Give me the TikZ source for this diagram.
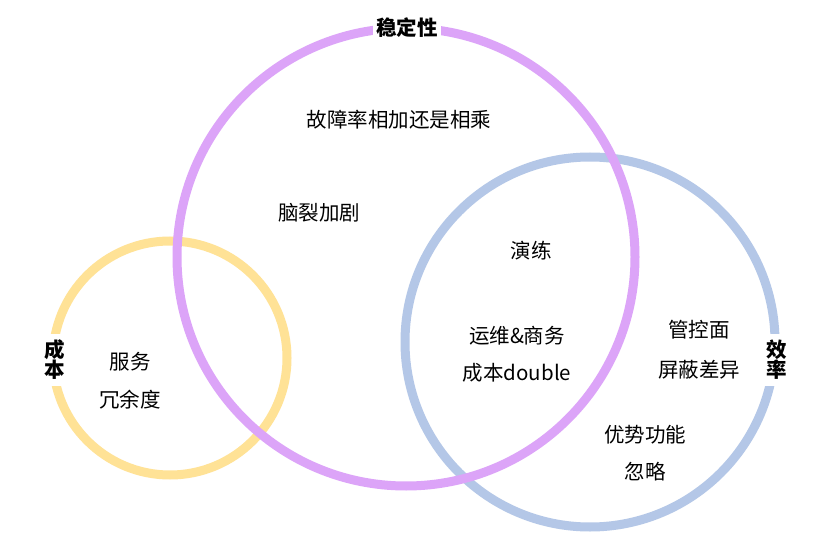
\documentclass[tikz,border=0pt]{standalone}
\usepackage{fontspec}
\setmainfont{Noto Sans CJK SC}
\definecolor{cpurple}{HTML}{DCA4F8}
\definecolor{cyellow}{HTML}{FFE296}
\definecolor{cblue}{HTML}{B4C7E7}
\begin{document}
\begin{tikzpicture}[x=1pt,y=-1pt,
  ring/.style={line width=9pt},
  lbl/.style={fill=white,inner sep=3pt,font=\fontsize{20.5}{22}\selectfont\bfseries},
  txt/.style={inner sep=0pt,font=\fontsize{20.5}{22}\selectfont}]
\useasboundingbox (0,0) rectangle (830,556);
\fill[white] (0,0) rectangle (830,556);
\coordinate (cy) at (170,358);
\coordinate (cb) at (590,342);
\coordinate (cp) at (406,257);
\draw[ring,cyellow] (cy) circle[radius=117];
\draw[ring,cblue] (cb) circle[radius=185];
\draw[ring,cpurple] (cp) circle[radius=229];
\node[lbl] (stab) at (407,28) {稳定性};
\node[lbl,align=center,inner ysep=6pt] (cost) at (55,360) {成\\[-2pt]本};
\node[lbl,align=center,inner ysep=6pt] (eff) at (777,360) {效\\[-2pt]率};
\node[txt] (t1) at (399,120) {故障率相加还是相乘};
\node[txt] (t2) at (319,213) {脑裂加剧};
\node[txt] (t3) at (531,251) {演练};
\node[txt] (t4) at (517,336) {运维\&商务};
\node[txt] (t5) at (517,373) {成本double};
\node[txt] (t6) at (699,330) {管控面};
\node[txt] (t7) at (699,370) {屏蔽差异};
\node[txt] (t8) at (130,362) {服务};
\node[txt] (t9) at (130,400) {冗余度};
\node[txt] (t10) at (645,435) {优势功能};
\node[txt] (t11) at (645,472) {忽略};
\end{tikzpicture}
\end{document}
